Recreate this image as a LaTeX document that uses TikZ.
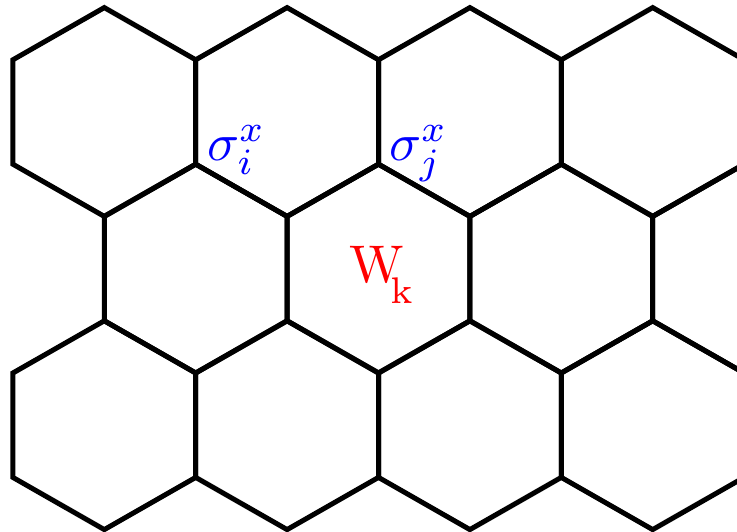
\documentclass[tikz,border=0pt]{standalone}
\begin{document}
\begin{tikzpicture}[x=1pt,y=-1pt,
  hexline/.style={line width=5pt,black},
  spinlabel/.style={text=blue,scale=5.3,inner sep=0pt,anchor=base west},
  plaqlabel/.style={text=red,scale=5.3,inner sep=0pt,anchor=base west}]
\useasboundingbox (0,0) rectangle (737,532);
\clip (0,0) rectangle (737,532);
\foreach \r/\xo in {0/104.3,1/195.7,2/104.3}{
  \foreach \k in {0,...,3}{
    \draw[hexline,shift={(\xo+\k*182.8,112+\r*156.6)}]
      (0,-104.4) -- (91.4,-52.2) -- (91.4,52.2) -- (0,104.4)
      -- (-91.4,52.2) -- (-91.4,-52.2) -- cycle;
  }
}
\node[spinlabel] (si) at (206,161) {$\sigma_i^x$};
\node[spinlabel] (sj) at (388,161) {$\sigma_j^x$};
\node[plaqlabel] (wk) at (348,283) {$\mathrm{W}\kern-2.6pt\raisebox{-3.8pt}{$\scriptstyle\mathrm{k}$}$};
\end{tikzpicture}
\end{document}
